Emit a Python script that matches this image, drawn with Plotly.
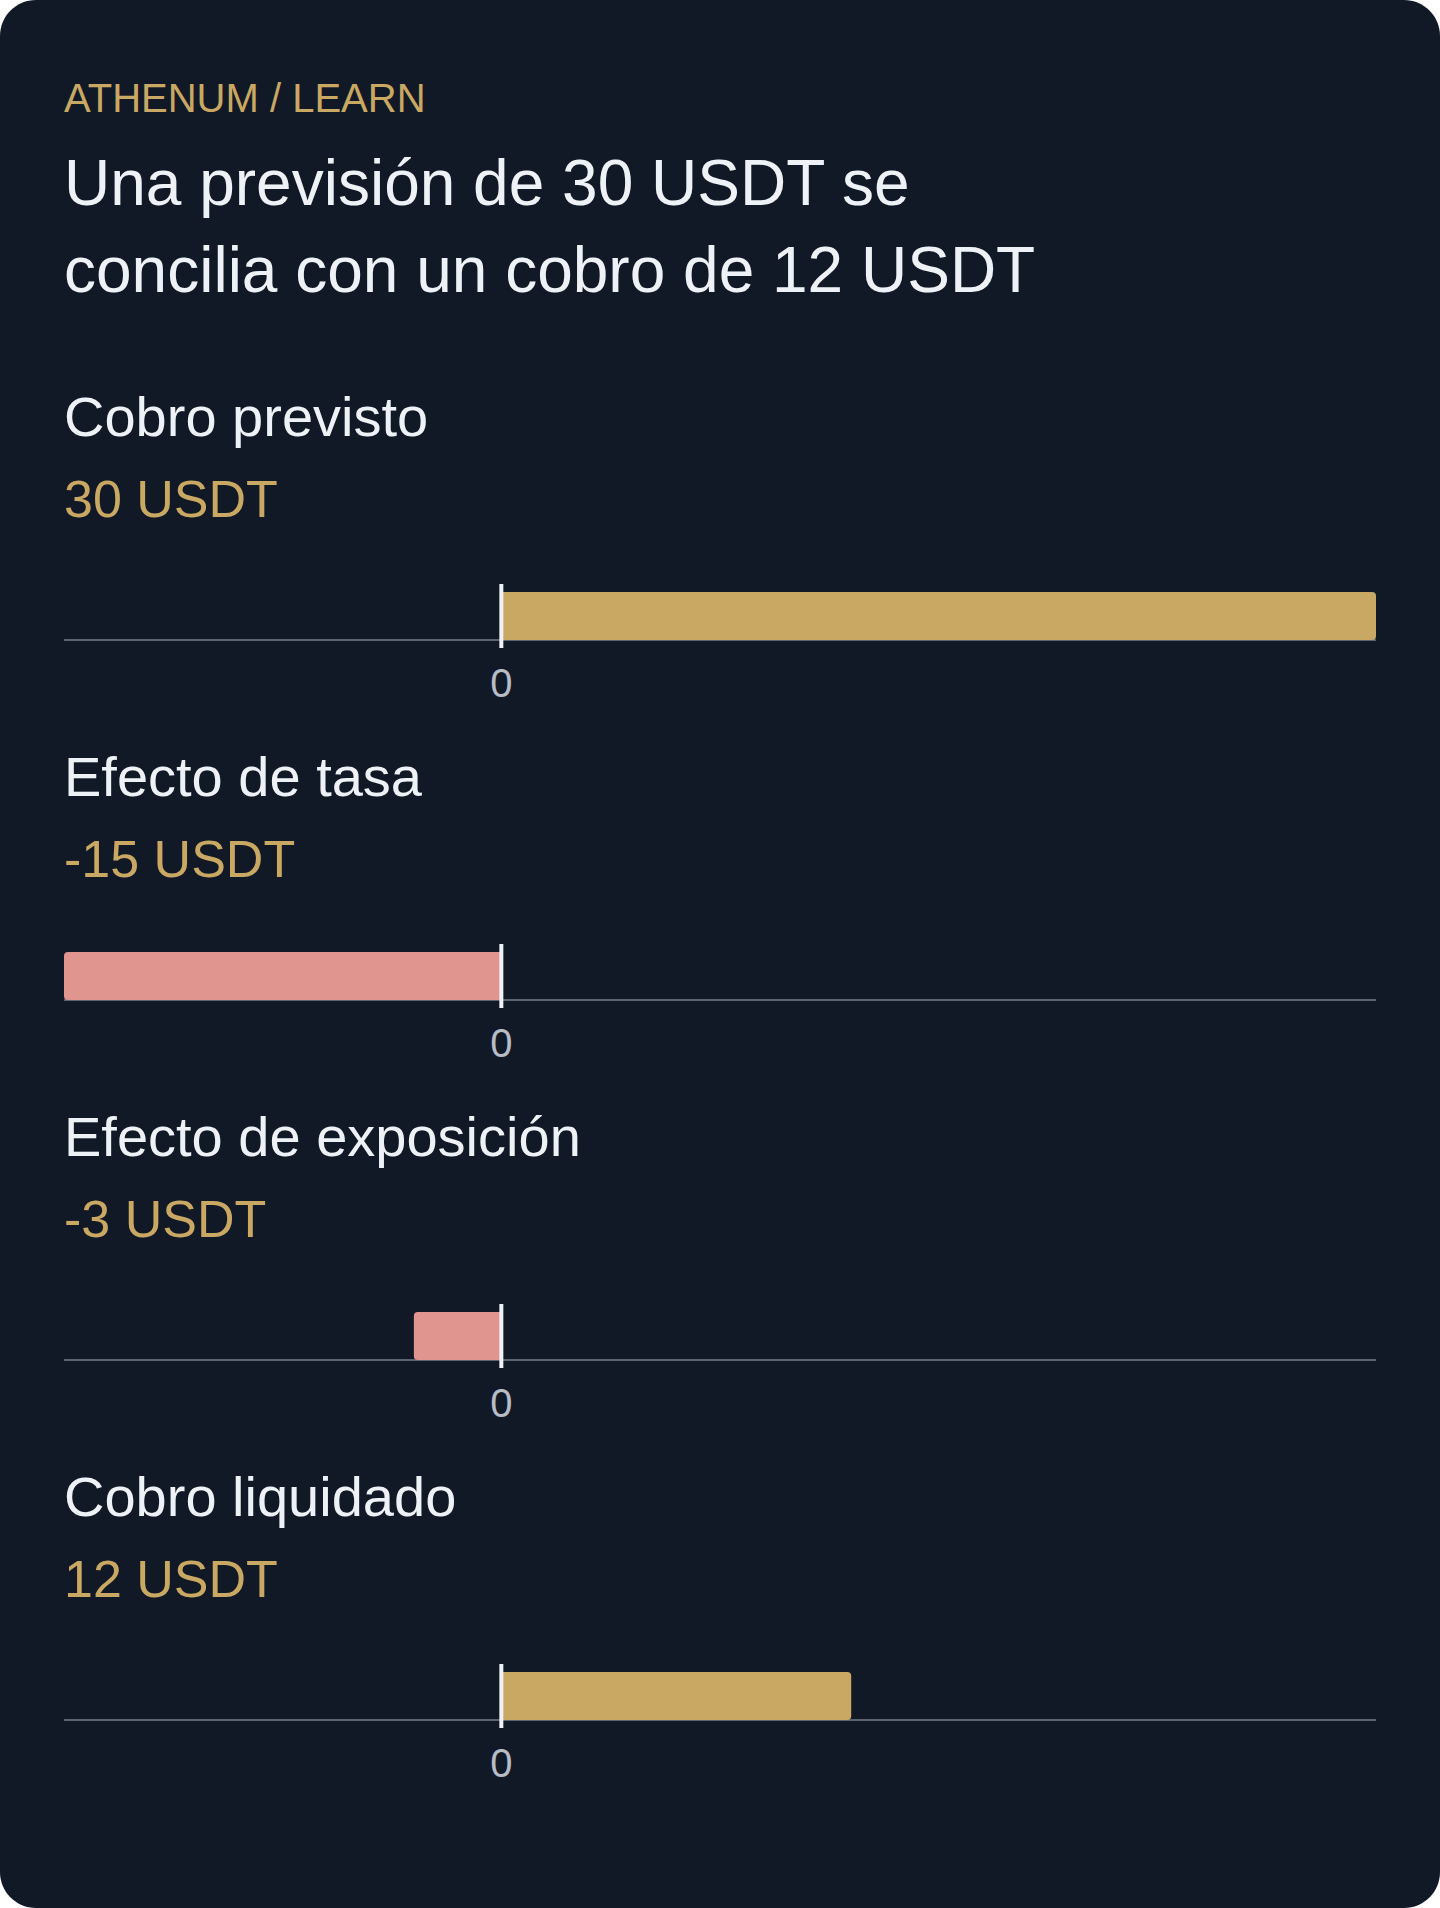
import plotly.graph_objects as go

# ---- data ----
kicker = "ATHENUM / LEARN"
title_lines = ["Una previsión de 30 USDT se", "concilia con un cobro de 12 USDT"]
categories = ["Cobro previsto", "Efecto de tasa", "Efecto de exposición", "Cobro liquidado"]
values = [30, -15, -3, 12]
value_labels = ["30 USDT", "-15 USDT", "-3 USDT", "12 USDT"]
x_range = [-15, 30]
tick_vals = [0]
tick_text = ["0"]

# ---- style ----
W, H = 1440, 1908
BG = "#121926"
GOLD = "#c9a863"
PINK = "#e0958f"
TEXT = "#eef2f7"
TICK = "#b4bcc6"
BASE = "#5a6470"
FONT = "Liberation Sans, Arial, sans-serif"
TX = 62 / W

def py(px):
    return 1 - px / H

fig = go.Figure()

# card background with rounded corners
r = 36
rx, ry = r / W, r / H
k = 0.5523
path = (
    f"M {rx},0 L {1-rx},0 C {1-rx+rx*k},0 1,{ry-ry*k} 1,{ry} "
    f"L 1,{1-ry} C 1,{1-ry+ry*k} {1-rx+rx*k},1 {1-rx},1 "
    f"L {rx},1 C {rx-rx*k},1 0,{1-ry+ry*k} 0,{1-ry} "
    f"L 0,{ry} C 0,{ry-ry*k} {rx-rx*k},0 {rx},0 Z"
)
shapes = [dict(type="path", xref="paper", yref="paper", path=path,
               fillcolor=BG, line=dict(width=0), layer="below")]

annotations = [
    dict(text=kicker, x=TX, y=py(112 - 0.3465 * 40), xref="paper", yref="paper",
         xanchor="left", yanchor="middle", showarrow=False,
         font=dict(family=FONT, size=40, color=GOLD)),
]
for i, line in enumerate(title_lines):
    base = 205 + 87 * i
    annotations.append(dict(text=line, x=TX, y=py(base - 0.3465 * 64),
                            xref="paper", yref="paper", xanchor="left", yanchor="middle",
                            showarrow=False, font=dict(family=FONT, size=64, color=TEXT)))

layout_axes = {}
for i, (cat, val, vlab) in enumerate(zip(categories, values, value_labels)):
    off = 360 * i
    n = "" if i == 0 else str(i + 1)
    top, bot = 584 + off, 648 + off
    layout_axes[f"xaxis{n}"] = dict(
        domain=[64 / W, 1376 / W], range=x_range, anchor=f"y{n}",
        tickvals=tick_vals, ticktext=tick_text, showgrid=False, zeroline=False,
        showline=False, ticks="", tickfont=dict(family=FONT, size=40, color=TICK),
        ticklabelstandoff=8, fixedrange=True,
    )
    layout_axes[f"yaxis{n}"] = dict(
        domain=[py(bot), py(top)], range=[-8, 56], anchor=f"x{n}",
        visible=False, fixedrange=True,
    )
    fig.add_trace(go.Bar(
        x=[val], y=[24], width=[48], orientation="h",
        marker=dict(color=GOLD if val >= 0 else PINK, line=dict(width=0)),
        xaxis=f"x{n}", yaxis=f"y{n}", hoverinfo="skip", showlegend=False,
    ))
    # baseline
    shapes.append(dict(type="line", xref=f"x{n} domain", yref=f"y{n}",
                       x0=0, x1=1, y0=0, y1=0, line=dict(color=BASE, width=2),
                       layer="below"))
    # zero line
    shapes.append(dict(type="line", xref=f"x{n}", yref=f"y{n} domain",
                       x0=0, x1=0, y0=0, y1=1, line=dict(color="#eef1f5", width=4),
                       layer="above"))
    annotations.append(dict(text=cat, x=TX, y=py(436 + off - 0.3465 * 56),
                            xref="paper", yref="paper", xanchor="left", yanchor="middle",
                            showarrow=False, font=dict(family=FONT, size=56, color=TEXT)))
    annotations.append(dict(text=vlab, x=TX, y=py(517 + off - 0.3465 * 52),
                            xref="paper", yref="paper", xanchor="left", yanchor="middle",
                            showarrow=False, font=dict(family=FONT, size=52, color=GOLD)))

fig.update_layout(
    width=W, height=H, margin=dict(l=0, r=0, t=0, b=0),
    paper_bgcolor="#ffffff", plot_bgcolor="rgba(0,0,0,0)",
    barcornerradius=4, shapes=shapes, annotations=annotations,
    font=dict(family=FONT), showlegend=False,
    **layout_axes,
)

fig.write_html(
    "out.html",
    config={"displayModeBar": False},
    post_script="document.body.style.margin='0';document.body.style.padding='0';"
                "document.documentElement.style.overflow='hidden';",
)
